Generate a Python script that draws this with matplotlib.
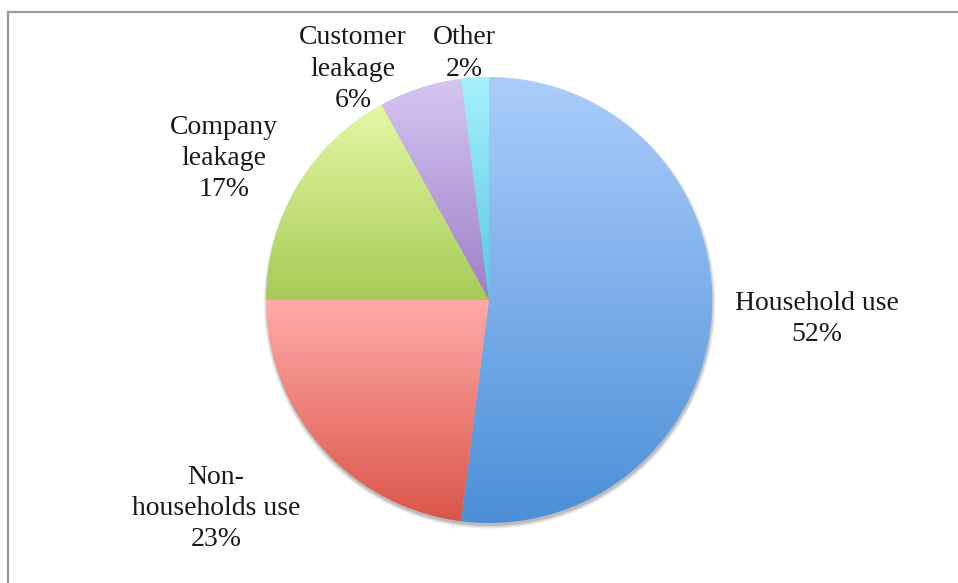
import numpy as np
from matplotlib import pyplot as plt
from matplotlib.lines import Line2D
from matplotlib.patches import Circle

# water use breakdown (percent)
categories = ["Household use", "Non-\nhouseholds use", "Company\nleakage",
              "Customer\nleakage", "Other"]
shares = [52, 23, 17, 6, 2]

# vertical gradient per slice: (top colour, bottom colour)
gradients = [
    ("#abcdfb", "#4b8fd8"),
    ("#ffaba8", "#da5548"),
    ("#e5f8a6", "#a6cb55"),
    ("#d7c6f2", "#9d7fc6"),
    ("#a6f0fd", "#58c9df"),
]

# label centres (pie radius units), Excel "best fit" style placement
label_pos = [(1.47, -0.085), (-1.224, -0.935), (-1.19, 0.635),
             (-0.61, 1.035), (-0.11, 1.105)]

W, H, DPI = 958, 583, 100
cx, cy, r = 489, 300, 223
pad = 1.1  # axes half-width in radius units, keeps the rim away from the clip box

fig = plt.figure(figsize=(W / DPI, H / DPI), dpi=DPI)
fig.patch.set_facecolor("white")
ax = fig.add_axes([(cx - r * pad) / W, (H - cy - r * pad) / H,
                   2 * r * pad / W, 2 * r * pad / H])
ax.set_axis_off()

# soft drop shadow under the pie
for k, a in enumerate([0.08, 0.09, 0.12]):
    ax.add_patch(Circle((0.003, -0.013), 1.0 + 0.006 * (2 - k),
                        color="#000000", alpha=a, lw=0, zorder=0))

wedges, _ = ax.pie(shares, startangle=90, counterclock=False, radius=1,
                   wedgeprops=dict(linewidth=0))


def to_rgb(h):
    h = h.lstrip("#")
    return np.array([int(h[i:i + 2], 16) for i in (0, 2, 4)]) / 255.0


for w, (top, bot) in zip(wedges, gradients):
    w.set_facecolor("none")
    ext = w.get_path().get_extents(w.get_patch_transform())
    t = np.linspace(0, 1, 256)[:, None, None]
    img = to_rgb(top)[None, None, :] * (1 - t) + to_rgb(bot)[None, None, :] * t
    img = np.repeat(img, 2, axis=1)
    im = ax.imshow(img, extent=(ext.x0, ext.x1, ext.y0, ext.y1), origin="upper",
                   aspect="auto", interpolation="bilinear", zorder=1)
    im.set_clip_path(w)

for name, val, (lx, ly) in zip(categories, shares, label_pos):
    ax.text(lx, ly, f"{name}\n{val}%", ha="center", va="center",
            multialignment="center", fontsize=20, family="Liberation Serif",
            color="#1a1a1a", linespacing=1.33, clip_on=False, zorder=3)

ax.set_xlim(-pad, pad)
ax.set_ylim(-pad, pad)
ax.set_aspect("equal")

# chart frame (top and left edges visible)
fig.add_artist(Line2D([8 / W, 1], [1 - 12 / H, 1 - 12 / H], color="#9a9a9a", lw=1.6))
fig.add_artist(Line2D([8 / W, 8 / W], [0, 1 - 12 / H], color="#9a9a9a", lw=1.6))

fig.savefig("out.png", dpi=DPI)
